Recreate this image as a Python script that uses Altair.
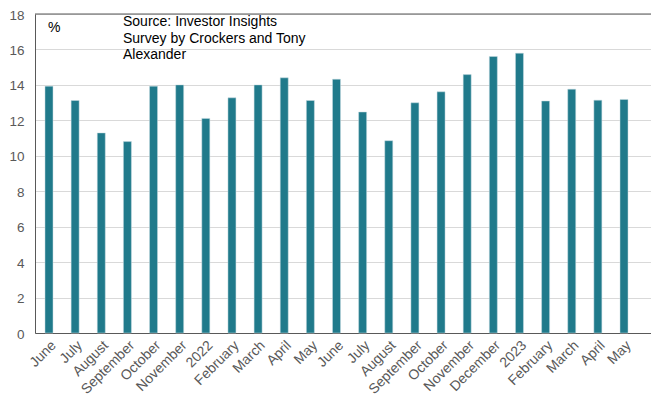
import json
import altair as alt
import pandas as pd

labels = ["June", "July", "August", "September", "October", "November", "2022",
          "February", "March", "April", "May", "June", "July", "August", "September",
          "October", "November", "December", "2023", "February", "March", "April", "May"]
values = [13.93, 13.12, 11.29, 10.80, 13.93, 14.00, 12.11, 13.27, 14.00, 14.40, 13.12,
          14.32, 12.47, 10.85, 12.99, 13.61, 14.58, 15.60, 15.79, 13.09, 13.76, 13.14, 13.18]
y_ticks = [0, 2, 4, 6, 8, 10, 12, 14, 16, 18]
source_text = ["Source: Investor Insights", "Survey by Crockers and Tony", "Alexander"]

df = pd.DataFrame({"idx": list(range(len(labels))), "value": values})
one = pd.DataFrame({"k": [0]})

W, H = 616, 319
FONT = "Liberation Sans"
GRAY = "#595959"

label_expr = json.dumps(labels) + "[datum.value]"

bars = alt.Chart(df).mark_bar(color="#207A8B", stroke="#c9dde2", strokeWidth=0.5).encode(
    x=alt.X("idx:O",
            scale=alt.Scale(paddingInner=0.694, paddingOuter=0.631, align=0.303),
            axis=alt.Axis(title=None, labelExpr=label_expr, labelAngle=-45,
                          labelFont=FONT, labelFontSize=14, labelColor=GRAY,
                          labelPadding=5, ticks=False, domainColor=GRAY,
                          domainWidth=1, grid=False, labelOverlap=False)),
    y=alt.Y("value:Q",
            scale=alt.Scale(domain=[0, 18], nice=False),
            axis=alt.Axis(title=None, values=y_ticks, labelFont=FONT, labelFontSize=13.5,
                          labelColor=GRAY, labelPadding=11, labelOffset=1, ticks=False,
                          domainColor=GRAY, domainWidth=1, gridColor="#d9d9d9",
                          gridWidth=1)),
)

top_rule = alt.Chart(one).mark_rule(color=GRAY, strokeWidth=1).encode(
    x=alt.value(0), x2=alt.value(W), y=alt.value(0)
)

pct = alt.Chart(one).mark_text(text="%", font=FONT, fontSize=14, color="black",
                               align="left", baseline="middle").encode(
    x=alt.value(13), y=alt.value(14)
)

src = alt.Chart(one).mark_text(text=source_text, font=FONT, fontSize=14, color="black",
                               align="left", baseline="middle", lineHeight=16.7).encode(
    x=alt.value(88), y=alt.value(8)
)

chart = alt.layer(bars, top_rule, pct, src).properties(
    width=W, height=H,
    autosize=alt.AutoSizeParams(type="none"),
    padding={"left": 27, "top": 6, "right": 0, "bottom": 63},
).configure_view(stroke=None).configure(background="white")

chart.save("out.html", embed_options={"renderer": "svg", "actions": False})
